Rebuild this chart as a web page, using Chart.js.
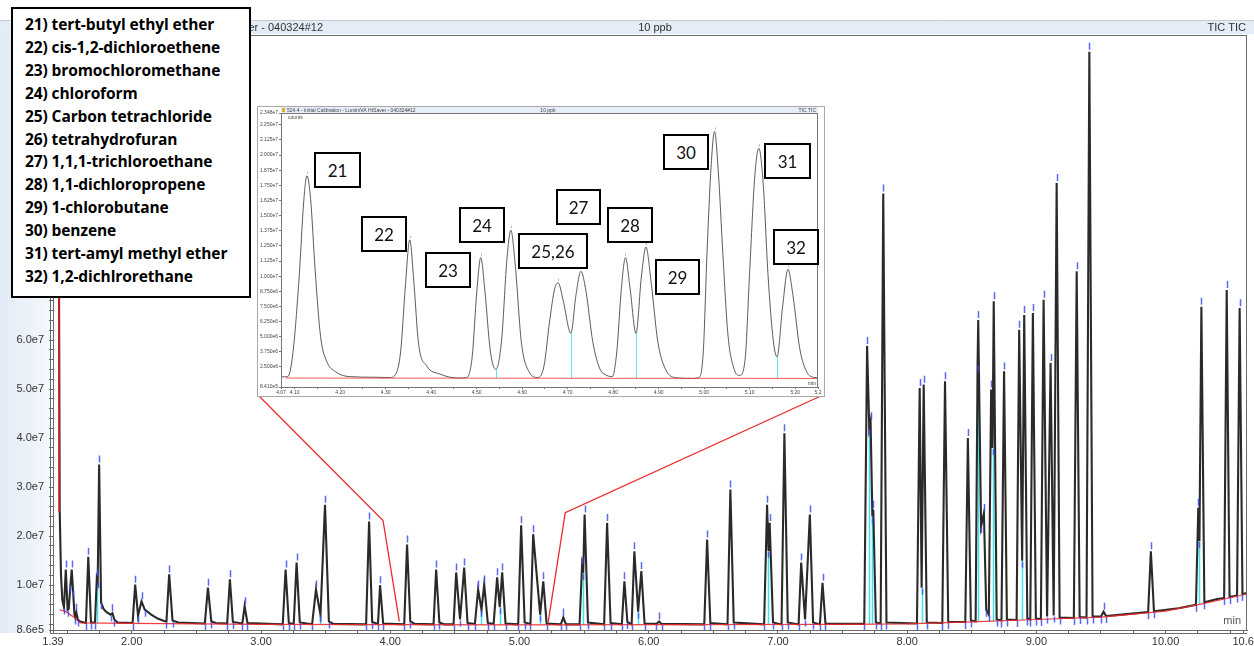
<!DOCTYPE html>
<html>
<head>
<meta charset="utf-8">
<script src="https://cdn.jsdelivr.net/npm/chart.js@4.4.1/dist/chart.umd.min.js"></script>
<style>
  html, body { margin: 0; padding: 0; background: #fff; }
  body { width: 1254px; height: 646px; position: relative; overflow: hidden; }
  #main { position: absolute; left: 0; top: 0; }
  #insetBox { position: absolute; left: 257px; top: 106px; width: 566px; height: 289px; border: 1px solid #a9a9a9; background: #fff; }
  #insetBox canvas { position: absolute; left: 0; top: 0; }
  .tag { position: absolute; box-sizing: border-box; height: 36px; border: 2px solid #000; background: #fff;
         font: 17px Lato, "Liberation Sans", sans-serif; color: #111; display: flex; align-items: center; justify-content: center; }
  #legend { position: absolute; left: 11px; top: 7px; width: 240px; height: 291px; box-sizing: border-box;
            border: 2px solid #000; background: #fff; padding: 4px 0 0 12px;
            font: bold 15.5px "Open Sans", "Noto Sans", sans-serif; line-height: 22.9px; color: #000; white-space: nowrap;
            letter-spacing: -0.1px; }
</style>
</head>
<body>
<canvas id="main" width="1254" height="646"></canvas>
<div id="insetBox"><canvas id="inset" width="566" height="289"></canvas></div>
<div id="legend"></div>
<div id="tags"></div>

<script>
// ---- main TIC trace, retention time (min) and abundance (millions of counts)
const rtEarly = [1.39, 1.43, 1.442, 1.452, 1.462, 1.475, 1.489, 1.503, 1.512, 1.525, 1.535, 1.545, 1.556, 1.563, 1.571, 1.582,
  1.60, 1.645, 1.663, 1.684, 1.715, 1.729, 1.736, 1.747, 1.762, 1.78, 1.80, 1.835, 1.85, 1.865, 1.89, 2.006, 2.026, 2.048,
  2.075, 2.10, 2.15, 2.20, 2.25, 2.268, 2.289, 2.315, 2.36, 2.565, 2.589, 2.615, 2.65, 2.738, 2.759, 2.782, 2.855, 2.873,
  2.895, 3.168, 3.19, 3.215, 3.253, 3.275, 3.30, 3.395, 3.425, 3.46, 3.495, 3.525, 3.56];
const ticEarly = [130, 130, 25, 12, 7, 5.5, 13.2, 5.0, 5.2, 10, 13.2, 9, 4.0, 3.4, 4.4, 3.0,
  2.6, 2.3, 15.8, 2.4, 2.4, 11.4, 10.8, 34.6, 6.5, 5.2, 4.6, 4.0, 4.3, 3.0, 2.4, 2.3, 10.1, 3.8,
  6.7, 5.0, 4.0, 3.2, 2.7, 2.6, 12.2, 2.8, 2.4, 2.2, 9.5, 2.6, 2.3, 2.2, 11.2, 2.5, 2.2, 5.7,
  2.3, 2.0, 13.2, 2.3, 2.1, 14.6, 2.4, 2.0, 9.1, 4.0, 26.4, 2.6, 2.1];

const rtMid = [3.813, 3.836, 3.86, 3.905, 3.921, 3.945, 4.108, 4.13, 4.155, 4.19, 4.335, 4.355, 4.38, 4.42, 4.49, 4.51,
  4.54, 4.572, 4.598, 4.655, 4.68, 4.706, 4.727, 4.755, 4.80, 4.827, 4.847, 4.866, 4.892, 4.99, 5.013, 5.04, 5.085, 5.106,
  5.16, 5.184, 5.21, 5.32, 5.339, 5.36, 5.465, 5.484, 5.493, 5.504, 5.53, 5.655, 5.678, 5.705, 5.792, 5.812, 5.835, 5.868,
  5.889, 5.918, 5.943, 5.968, 6.06, 6.08, 6.10, 6.43, 6.452, 6.477, 6.61, 6.632, 6.658, 6.893, 6.916, 6.927, 6.936, 6.962,
  7.028, 7.05, 7.076, 7.16, 7.18, 7.21, 7.247, 7.272, 7.325, 7.345, 7.368];
const ticMid = [2.0, 23.0, 2.5, 2.1, 10.0, 2.2, 2.0, 18.3, 2.6, 2.1, 2.0, 13.2, 2.4, 2.0, 2.0, 12.6,
  3.0, 13.6, 2.3, 2.1, 9.1, 5.0, 10.1, 2.3, 2.1, 11.6, 5.5, 12.6, 2.2, 2.0, 22.2, 2.4, 2.1, 20.4,
  4.0, 10.8, 2.2, 2.0, 3.4, 2.0, 2.0, 13.9, 12.5, 24.4, 2.4, 2.0, 22.7, 2.3, 2.0, 10.8, 2.5, 2.0,
  16.9, 4.6, 12.9, 2.2, 2.1, 2.6, 2.1, 2.0, 19.3, 2.3, 2.0, 29.5, 2.4, 2.0, 26.4, 17.0, 22.7, 2.4,
  2.0, 41.0, 2.4, 2.0, 14.6, 3.0, 24.4, 2.4, 2.0, 10.5, 2.1];

const rtLate = [7.668, 7.69, 7.707, 7.717, 7.731, 7.738, 7.758, 7.795, 7.815, 7.84, 8.076, 8.097, 8.112, 8.128, 8.152,
  8.272, 8.293, 8.318, 8.45, 8.47, 8.493, 8.53, 8.545, 8.55, 8.572, 8.594, 8.612, 8.632, 8.65, 8.661, 8.67, 8.693, 8.73,
  8.75, 8.772, 8.847, 8.867, 8.89, 8.906, 8.93, 8.953, 8.973, 8.996, 9.035, 9.056, 9.083, 9.11, 9.134, 9.157, 9.18, 9.29,
  9.312, 9.335, 9.388, 9.41, 9.435, 9.50, 9.52, 9.54, 9.70, 9.865, 9.886, 9.91, 10.10, 10.235, 10.253, 10.262, 10.277,
  10.30, 10.40, 10.453, 10.473, 10.495, 10.553, 10.573, 10.595, 10.63];
const ticLate = [2.1, 58.8, 42.0, 43.4, 24.0, 25.4, 2.4, 2.2, 89.9, 2.4, 2.2, 50.2, 9.5, 50.9, 2.4,
  2.3, 51.6, 2.5, 2.5, 40.0, 2.8, 2.6, 55.0, 64.1, 22.0, 24.7, 5.0, 4.0, 49.9, 38.0, 67.9, 3.0, 2.8,
  53.6, 3.0, 2.9, 62.1, 15.0, 65.1, 3.2, 3.0, 65.5, 3.2, 3.1, 68.2, 3.6, 55.3, 3.8, 92.0, 3.4, 3.3,
  74.0, 3.5, 3.4, 118.8, 3.6, 3.6, 4.6, 3.7, 4.1, 4.5, 16.9, 4.7, 5.3, 6.0, 25.8, 19.0, 66.8,
  6.5, 7.2, 7.4, 70.2, 7.6, 7.9, 66.5, 8.2, 8.4];

// integration baseline (red) and valley drop lines (cyan)
const baseRt = [1.44, 1.49, 1.56, 1.60, 2.0, 3.0, 5.0, 7.5, 8.0, 8.5, 9.0, 9.5, 10.0, 10.3, 10.63];
const baseTic = [5.0, 4.6, 3.3, 2.3, 2.2, 2.0, 1.9, 2.0, 2.1, 2.5, 3.0, 3.5, 4.7, 6.3, 8.2];
const solventCutRt = [1.437, 1.437];
const solventCutTic = [25, 125];
const dropRt = [1.732, 2.048, 3.46, 4.706, 4.847, 5.16, 5.493, 5.918, 6.927, 7.707, 7.731, 8.112, 8.545, 8.661, 8.89, 10.262];
const dropTic = [11.0, 3.8, 4.0, 5.0, 5.5, 4.0, 12.5, 4.6, 17.0, 42.0, 24.0, 9.5, 55.0, 38.0, 15.0, 19.0];

// zoom window links (main-plot end of the red connector lines)
const linkLeftRt = [3.944, 4.07];
const linkLeftTic = [23.2, 2.6];
const linkRightRt = [5.354, 5.222];
const linkRightTic = [24.8, 2.4];

// axes
const xTickValues = [1.39, 2, 3, 4, 5, 6, 7, 8, 9, 10, 10.6];
const xTickLabels = ['1.39', '2.00', '3.00', '4.00', '5.00', '6.00', '7.00', '8.00', '9.00', '10.00', '10.6'];
const yTickValues = [0.86, 10, 20, 30, 40, 50, 60, 70, 80, 90, 100, 110, 120];
const yTickLabels = ['8.6e5', '1.0e7', '2.0e7', '3.0e7', '4.0e7', '5.0e7', '6.0e7', '7.0e7', '8.0e7', '9.0e7', '1.0e8', '1.1e8', '1.2e8'];

// ---- inset: 4.07 - 5.25 min, compounds 21-32
const insetRtA = [4.07, 4.085, 4.096, 4.11, 4.12, 4.127, 4.135, 4.145, 4.157, 4.17, 4.19, 4.22, 4.27, 4.31,
  4.322, 4.333, 4.343, 4.353, 4.362, 4.372, 4.39, 4.42, 4.46,
  4.478, 4.49, 4.50, 4.509, 4.518, 4.53, 4.542,
  4.555, 4.566, 4.575, 4.585, 4.598, 4.615, 4.635];
const insetTicA = [1.68, 1.7, 3.6, 10.0, 16.2, 18.3, 16.4, 10.5, 5.0, 3.0, 2.1, 1.7, 1.65, 1.62,
  1.9, 3.8, 9.0, 13.0, 9.5, 4.5, 2.6, 1.9, 1.58,
  1.62, 3.3, 8.6, 11.53, 8.8, 3.8, 2.3,
  4.8, 11.2, 13.8, 10.8, 4.6, 2.1, 1.62];
const insetRtB = [4.648, 4.66, 4.671, 4.679, 4.69, 4.707, 4.718, 4.729, 4.74, 4.755, 4.77, 4.786, 4.798,
  4.808, 4.818, 4.827, 4.837, 4.85, 4.862, 4.872, 4.883, 4.898, 4.915, 4.94, 4.97, 4.988,
  4.998, 5.006, 5.015, 5.0226, 5.031, 5.041, 5.052, 5.065, 5.078,
  5.09, 5.10, 5.111, 5.12, 5.13, 5.14, 5.152, 5.16, 5.172, 5.184, 5.195, 5.21, 5.225, 5.237, 5.25];
const insetTicB = [2.6, 6.2, 8.9, 9.45, 8.0, 5.28, 8.4, 10.4, 8.8, 4.6, 2.4, 1.8, 1.7,
  3.8, 9.0, 11.53, 9.0, 5.28, 10.0, 12.4, 9.6, 4.6, 2.3, 1.6, 1.55, 1.62,
  3.8, 11.8, 19.0, 21.95, 18.6, 11.8, 5.2, 2.4, 1.8,
  3.2, 10.5, 18.2, 20.56, 17.4, 10.2, 4.6, 3.33, 7.4, 10.56, 8.4, 4.0, 2.1, 1.67, 1.6];
const insetBaseRt = [4.08, 5.25];
const insetBaseTic = [1.58, 1.55];
const insetDropRt = [4.542, 4.707, 4.85, 5.16];
const insetDropTic = [2.3, 5.28, 5.28, 3.33];
const insetXTickValues = [4.07, 4.1, 4.2, 4.3, 4.4, 4.5, 4.6, 4.7, 4.8, 4.9, 5.0, 5.1, 5.2, 5.25];
const insetXTickLabels = ['4.07', '4.10', '4.20', '4.30', '4.40', '4.50', '4.60', '4.70', '4.80', '4.90', '5.00', '5.10', '5.20', '5.2'];
const insetYTickValues = [0.841, 2.5, 3.75, 5, 6.25, 7.5, 8.75, 10, 11.25, 12.5, 13.75, 15, 16.25, 17.5, 18.75, 20, 21.25, 22.5, 23.48];
const insetYTickLabels = ['8.410e5', '2.500e6', '3.750e6', '5.000e6', '6.250e6', '7.500e6', '8.750e6', '1.000e7', '1.125e7',
  '1.250e7', '1.375e7', '1.500e7', '1.625e7', '1.750e7', '1.875e7', '2.000e7', '2.125e7', '2.250e7', '2.348e7'];

// ---- texts
const headerTitle = '524.4 - Initial Calibration - Lumin/VA HtSaver - 040324#12';
const headerSample = '10 ppb';
const headerTrace = 'TIC TIC';
const compounds = ['21) tert-butyl ethyl ether', '22) cis-1,2-dichloroethene', '23) bromochloromethane', '24) chloroform',
  '25) Carbon tetrachloride', '26) tetrahydrofuran', '27) 1,1,1-trichloroethane', '28) 1,1-dichloropropene',
  '29) 1-chlorobutane', '30) benzene', '31) tert-amyl methyl ether', '32) 1,2-dichlrorethane'];
// peak number boxes on the inset (page pixels)
const tagLayout = [
  { text: '21', left: 314, top: 152, w: 47 }, { text: '22', left: 361, top: 216, w: 46 },
  { text: '23', left: 425, top: 252, w: 46 }, { text: '24', left: 459, top: 207, w: 46 },
  { text: '25,26', left: 518, top: 233, w: 70 }, { text: '27', left: 556, top: 189, w: 45 },
  { text: '28', left: 607, top: 207, w: 46 }, { text: '29', left: 655, top: 259, w: 45 },
  { text: '30', left: 663, top: 134, w: 46 }, { text: '31', left: 764, top: 143, w: 47 },
  { text: '32', left: 773, top: 229, w: 46 }
];

// ---------------------------------------------------------------
document.getElementById('legend').innerHTML = compounds.join('<br>');
const tagsDiv = document.getElementById('tags');
tagLayout.forEach(t => {
  const d = document.createElement('div');
  d.className = 'tag';
  d.style.left = t.left + 'px';
  d.style.top = t.top + 'px';
  d.style.width = t.w + 'px';
  d.textContent = t.text;
  tagsDiv.appendChild(d);
});

const M = 1e6;
const pts = (xs, ys) => xs.map((x, i) => ({ x: x, y: ys[i] * M }));
const rtAll = rtEarly.concat(rtMid, rtLate);
const ticAll = ticEarly.concat(ticMid, ticLate);
const insetRt = insetRtA.concat(insetRtB);
const insetTic = insetTicA.concat(insetTicB);

function withMinor(major, from, to, step) {
  const all = major.slice();
  for (let v = from; v <= to + 1e-9; v += step) {
    const r = Math.round(v * 1000) / 1000;
    if (!all.some(m => Math.abs(m - r) < 1e-6)) all.push(r);
  }
  return all.sort((a, b) => a - b);
}
function labelFrom(values, labels, v) {
  const i = values.findIndex(m => Math.abs(m - v) < 1e-6);
  return i >= 0 ? labels[i] : '';
}
function baseAt(rts, vals, t) {
  for (let i = 1; i < rts.length; i++) {
    if (t <= rts[i]) return vals[i - 1] + (vals[i] - vals[i - 1]) * (t - rts[i - 1]) / (rts[i] - rts[i - 1]);
  }
  return vals[vals.length - 1];
}

function drawDrops(chart, rts, tops, bRt, bTic, color, width) {
  const xs = chart.scales.x, ys = chart.scales.y, ctx = chart.ctx;
  ctx.save();
  ctx.strokeStyle = color;
  ctx.lineWidth = width;
  ctx.beginPath();
  rts.forEach((t, i) => {
    const px = Math.round(xs.getPixelForValue(t)) + 0.5;
    ctx.moveTo(px, ys.getPixelForValue(tops[i] * M));
    ctx.lineTo(px, ys.getPixelForValue(baseAt(bRt, bTic, t) * M));
  });
  ctx.stroke();
  ctx.restore();
}

function peakMarks(chart, rts, vals, up, down, color, width) {
  const xs = chart.scales.x, ys = chart.scales.y, a = chart.chartArea, ctx = chart.ctx;
  const isApex = i => i > 0 && i < vals.length - 1 && vals[i] > vals[i - 1] && vals[i] > vals[i + 1];
  ctx.save();
  ctx.strokeStyle = color;
  ctx.lineWidth = width;
  ctx.beginPath();
  for (let i = 0; i < vals.length; i++) {
    const px = Math.round(xs.getPixelForValue(rts[i])) + 0.5;
    const py = ys.getPixelForValue(vals[i] * M);
    if (px < a.left || px > a.right) continue;
    if (isApex(i)) {
      if (py - up < a.top) continue;
      ctx.moveTo(px, py - up);
      ctx.lineTo(px, py - 2);
    } else if (down > 0 && (isApex(i - 1) || isApex(i + 1))) {
      ctx.moveTo(px, py + 1);
      ctx.lineTo(px, Math.min(py + down, a.bottom));
    }
  }
  ctx.stroke();
  ctx.restore();
}

const mainDecor = {
  id: 'mainDecor',
  beforeDraw(chart) {
    const ctx = chart.ctx, a = chart.chartArea;
    ctx.save();
    const g = ctx.createLinearGradient(0, 0, a.left, 0);
    g.addColorStop(0, '#e2ebf7');
    g.addColorStop(1, '#f5f8fc');
    ctx.fillStyle = g;
    ctx.fillRect(0, 20, a.left - 3, a.bottom - 17);
    ctx.fillStyle = '#e4ecf7';
    ctx.fillRect(0, 20, chart.width, 14);
    ctx.strokeStyle = '#c4ccd6';
    ctx.lineWidth = 1;
    ctx.beginPath();
    ctx.moveTo(0, 20.5); ctx.lineTo(chart.width, 20.5);
    ctx.stroke();
    ctx.fillStyle = '#333';
    ctx.font = '11px "Liberation Sans Narrow", "Liberation Sans", Arial, sans-serif';
    ctx.textBaseline = 'middle';
    ctx.textAlign = 'right';
    ctx.fillText(headerTitle, 323, 27.5);
    ctx.textAlign = 'center';
    ctx.fillText(headerSample, 655, 27.5);
    ctx.textAlign = 'right';
    ctx.fillText(headerTrace, 1246, 27.5);
    ctx.restore();
  },
  beforeDatasetsDraw(chart) {
    drawDrops(chart, dropRt, dropTic, baseRt, baseTic, 'rgba(40,225,235,0.9)', 1.5);
  },
  afterDatasetsDraw(chart) {
    peakMarks(chart, rtAll, ticAll, 9, 7, 'rgba(60,80,245,0.85)', 1.5);
    const ctx = chart.ctx, a = chart.chartArea;
    ctx.save();
    ctx.strokeStyle = '#6b6b6b';
    ctx.lineWidth = 1;
    ctx.strokeRect(a.left + 0.5, a.top + 0.5, a.right - a.left - 1, a.bottom - a.top);
    ctx.beginPath();
    ctx.moveTo(a.left - 2.5, a.top); ctx.lineTo(a.left - 2.5, a.bottom + 3.5);
    ctx.lineTo(a.right, a.bottom + 3.5);
    ctx.stroke();
    ctx.fillStyle = '#555';
    ctx.font = '11px "Liberation Sans", Arial, sans-serif';
    ctx.textAlign = 'right';
    ctx.textBaseline = 'alphabetic';
    ctx.fillText('min', a.right - 6, a.bottom - 6);
    ctx.restore();
  },
  afterDraw(chart) {
    const xs = chart.scales.x, ys = chart.scales.y, ctx = chart.ctx;
    const box = document.getElementById('insetBox');
    const bx0 = box.offsetLeft + 1, bx1 = box.offsetLeft + box.offsetWidth - 2;
    const by = box.offsetTop + box.offsetHeight - 2;
    ctx.save();
    ctx.strokeStyle = '#ec2a2a';
    ctx.lineWidth = 1.3;
    ctx.beginPath();
    ctx.moveTo(bx0, by);
    linkLeftRt.forEach((t, i) => ctx.lineTo(xs.getPixelForValue(t), ys.getPixelForValue(linkLeftTic[i] * M)));
    ctx.moveTo(bx1, by);
    linkRightRt.forEach((t, i) => ctx.lineTo(xs.getPixelForValue(t), ys.getPixelForValue(linkRightTic[i] * M)));
    ctx.stroke();
    ctx.restore();
  }
};

new Chart(document.getElementById('main'), {
  type: 'line',
  data: {
    datasets: [
      { data: pts(baseRt, baseTic), borderColor: 'rgba(245,40,40,0.9)', borderWidth: 1.2, pointRadius: 0 },
      { data: pts(solventCutRt, solventCutTic), borderColor: '#e21f1f', borderWidth: 1.6, pointRadius: 0 },
      { data: pts(rtAll, ticAll), borderColor: '#2a2a2a', borderWidth: 2.1, pointRadius: 0, tension: 0 }
    ]
  },
  options: {
    responsive: false,
    animation: false,
    events: [],
    layout: { padding: { left: 0, right: 7, top: 35, bottom: 0 } },
    plugins: { legend: { display: false }, tooltip: { enabled: false } },
    scales: {
      x: {
        type: 'linear', min: 1.39, max: 10.63,
        afterBuildTicks: s => { s.ticks = withMinor(xTickValues, 1.5, 10.5, 0.25).map(v => ({ value: v })); },
        afterFit: s => { s.height = 16; s.paddingLeft = 0; s.paddingRight = 0; },
        ticks: { autoSkip: false, maxRotation: 0, padding: 1, color: '#333',
                 font: { family: '"Liberation Sans", Arial, sans-serif', size: 11 },
                 callback: v => labelFrom(xTickValues, xTickLabels, v) },
        grid: { drawOnChartArea: false, tickLength: 4, color: '#666' },
        border: { color: '#666' }
      },
      y: {
        type: 'linear', min: 0.86 * M, max: 122.2 * M,
        afterBuildTicks: s => { s.ticks = withMinor(yTickValues, 2, 120, 2).map(v => ({ value: v * M })); },
        afterFit: s => { s.width = 53; s.paddingTop = 0; s.paddingBottom = 0; },
        ticks: { autoSkip: false, padding: 5, color: '#333',
                 font: { family: '"Liberation Sans", Arial, sans-serif', size: 11 },
                 callback: v => labelFrom(yTickValues, yTickLabels, v / M) },
        grid: { drawOnChartArea: false, tickLength: 4, color: '#666' },
        border: { color: '#666' }
      }
    }
  },
  plugins: [mainDecor]
});

const insetDecor = {
  id: 'insetDecor',
  beforeDraw(chart) {
    const ctx = chart.ctx, a = chart.chartArea;
    ctx.save();
    ctx.fillStyle = '#e6eef9';
    ctx.fillRect(a.left, 0, a.right - a.left, a.top);
    ctx.fillStyle = '#d9b030';
    ctx.fillRect(a.left + 1, 1, 3, 4);
    ctx.fillStyle = '#444';
    ctx.font = '5px "Liberation Sans", Arial, sans-serif';
    ctx.textBaseline = 'middle';
    ctx.textAlign = 'left';
    ctx.fillText(headerTitle, a.left + 6, 3.5);
    ctx.textAlign = 'center';
    ctx.fillText(headerSample, 290, 3.5);
    ctx.textAlign = 'right';
    ctx.fillText(headerTrace, a.right - 2, 3.5);
    ctx.textAlign = 'left';
    ctx.fillText('counts', a.left + 7, a.top + 5);
    ctx.restore();
  },
  beforeDatasetsDraw(chart) {
    drawDrops(chart, insetDropRt, insetDropTic, insetBaseRt, insetBaseTic, 'rgba(60,225,235,0.9)', 0.9);
  },
  afterDatasetsDraw(chart) {
    peakMarks(chart, insetRt, insetTic, 4, 0, 'rgba(110,120,255,0.8)', 0.8);
    const ctx = chart.ctx, a = chart.chartArea;
    ctx.save();
    ctx.strokeStyle = '#777';
    ctx.lineWidth = 1;
    ctx.strokeRect(a.left + 0.5, a.top + 0.5, a.right - a.left - 1, a.bottom - a.top);
    ctx.fillStyle = '#444';
    ctx.font = '5px "Liberation Sans", Arial, sans-serif';
    ctx.textAlign = 'right';
    ctx.fillText('min', a.right - 2, a.bottom - 2);
    ctx.restore();
  }
};

new Chart(document.getElementById('inset'), {
  type: 'line',
  data: {
    datasets: [
      { data: pts(insetBaseRt, insetBaseTic), borderColor: 'rgba(245,60,60,0.85)', borderWidth: 1, pointRadius: 0 },
      { data: pts(insetRt, insetTic), borderColor: '#4a4a4a', borderWidth: 0.9, pointRadius: 0, cubicInterpolationMode: 'monotone' }
    ]
  },
  options: {
    responsive: false,
    animation: false,
    events: [],
    layout: { padding: { left: 0, right: 6, top: 6, bottom: 0 } },
    plugins: { legend: { display: false }, tooltip: { enabled: false } },
    scales: {
      x: {
        type: 'linear', min: 4.07, max: 5.25,
        afterBuildTicks: s => { s.ticks = withMinor(insetXTickValues, 4.15, 5.15, 0.1).map(v => ({ value: v })); },
        afterFit: s => { s.height = 9; s.paddingLeft = 0; s.paddingRight = 0; },
        ticks: { autoSkip: false, maxRotation: 0, padding: 1, color: '#444',
                 font: { family: '"Liberation Sans", Arial, sans-serif', size: 5 },
                 callback: v => labelFrom(insetXTickValues, insetXTickLabels, v) },
        grid: { drawOnChartArea: false, tickLength: 2, color: '#777' },
        border: { color: '#777' }
      },
      y: {
        type: 'linear', min: 0.841 * M, max: 23.48 * M,
        afterBuildTicks: s => { s.ticks = insetYTickValues.map(v => ({ value: v * M })); },
        afterFit: s => { s.width = 23; s.paddingTop = 0; s.paddingBottom = 0; },
        ticks: { autoSkip: false, padding: 1, color: '#444',
                 font: { family: '"Liberation Sans", Arial, sans-serif', size: 5 },
                 callback: v => labelFrom(insetYTickValues, insetYTickLabels, v / M) },
        grid: { drawOnChartArea: false, tickLength: 2, color: '#777' },
        border: { color: '#777' }
      }
    }
  },
  plugins: [insetDecor]
});
</script>
</body>
</html>
